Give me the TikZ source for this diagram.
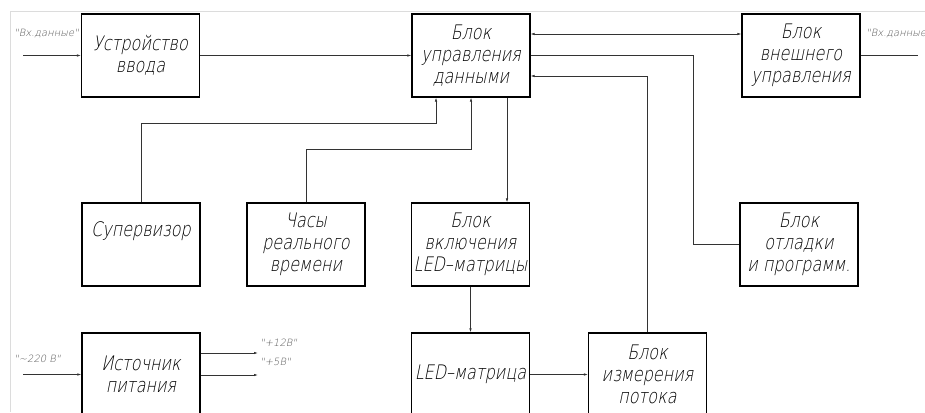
\documentclass[tikz,border=0pt]{standalone}
\usepackage{fontspec}
\newfontfamily\gost{DejaVu Sans ExtraLight}[FakeSlant=0.2, FakeStretch=0.8]
\newfontfamily\gostsmall{DejaVu Sans ExtraLight}[FakeSlant=0.2]
\usepackage{xcolor}
\definecolor{wire}{HTML}{333333}
\definecolor{sheet}{HTML}{DCDCDC}
\definecolor{note}{HTML}{555555}
\usepackage{tikz}
\usetikzlibrary{arrows.meta, positioning, calc}

\begin{document}
\begin{tikzpicture}[x=1pt, y=-1pt, font=\gost\fontsize{20}{22}\selectfont,
  blk/.style={draw, line width=1.3pt, minimum width=118pt, minimum height=83pt, align=center, inner sep=0pt},
  wire/.style={line width=0.6pt, draw=wire},
  sig/.style={font=\gostsmall\fontsize{10}{12}\selectfont, text=note, anchor=west, inner sep=0pt},
  >={Latex[length=4pt,width=2.4pt]}]
  \useasboundingbox (0,0) rectangle (925,412);
  \clip (0,0) rectangle (925,412);
  \draw[sheet, line width=0.8pt] (10,412) -- (10,11) -- (925,11);

  \node[blk] (inp)   at (140.5,55.5)  {Устройство\\ввода};
  \node[blk] (ctrl)  at (471,55.5)    {Блок\\управления\\данными};
  \node[blk] (ext)   at (801,55.5)    {Блок\\внешнего\\управления};
  \node[blk] (sup)   at (141,244.5)   {Супервизор\\[8pt]};
  \node[blk] (rtc)   at (306,244.5)   {Часы\\реального\\времени};
  \node[blk] (ledon) at (470.5,244.5) {Блок\\включения\\LED–матрицы};
  \node[blk] (dbg)   at (799,244.5)   {Блок\\отладки\\и программ.};
  \node[blk] (psu)   at (141,374.5)   {Источник\\питания};
  \node[blk] (led)   at (470.5,374.5) {LED–матрица};
  \node[blk] (flow)  at (647.5,374.5) {Блок\\измерения\\потока};

  \node[sig] (datain)  at (14,34)  {"Вх.данные"};
  \node[sig] (dataout) at (866,34) {"Вх.данные"};
  \node[sig] (mains)   at (14,359) {"\textasciitilde220 В"};
  \node[sig] (out12)   at (260,343) {"+12В"};
  \node[sig] (out5)    at (260,362) {"+5В"};

  \coordinate (in1) at (23,55.5);
  \coordinate (out1) at (918,55.5);
  \coordinate (dbgturn) at (693,55.5);
  \coordinate (supbend) at (436,123);
  \coordinate (rtcbend) at (471,149);
  \coordinate (ac) at (23,374.5);
  \coordinate (v12) at (258,353);
  \coordinate (v5) at (258,375);

  \draw[wire,->] (in1) -- (inp.west);
  \draw[wire,->] (inp.east) -- (ctrl.west);
  \draw[wire,<->] ([yshift=21.5pt]ctrl.east) -- ([yshift=21.5pt]ext.west);
  \draw[wire] (ext.east) -- (out1);
  \draw[wire] (ctrl.east) -- (dbgturn) |- (dbg.west);
  \draw[wire,->] (flow.north) |- ([yshift=-20.5pt]ctrl.east);
  \draw[wire,->] (sup.north) |- (supbend) -- (supbend |- ctrl.south);
  \draw[wire,->] (rtc.north) |- (rtcbend) -- (ctrl.south);
  \draw[wire,->] ([xshift=36pt]ctrl.south) -- ([xshift=36pt]ctrl.south |- ledon.north);
  \draw[wire,->] (ledon.south) -- (led.north);
  \draw[wire,->] (led.east) -- (flow.west);
  \draw[wire,->] (ac) -- (psu.west);
  \draw[wire,->] (psu.east |- v12) -- (v12);
  \draw[wire,->] (psu.east |- v5) -- (v5);
\end{tikzpicture}
\end{document}
